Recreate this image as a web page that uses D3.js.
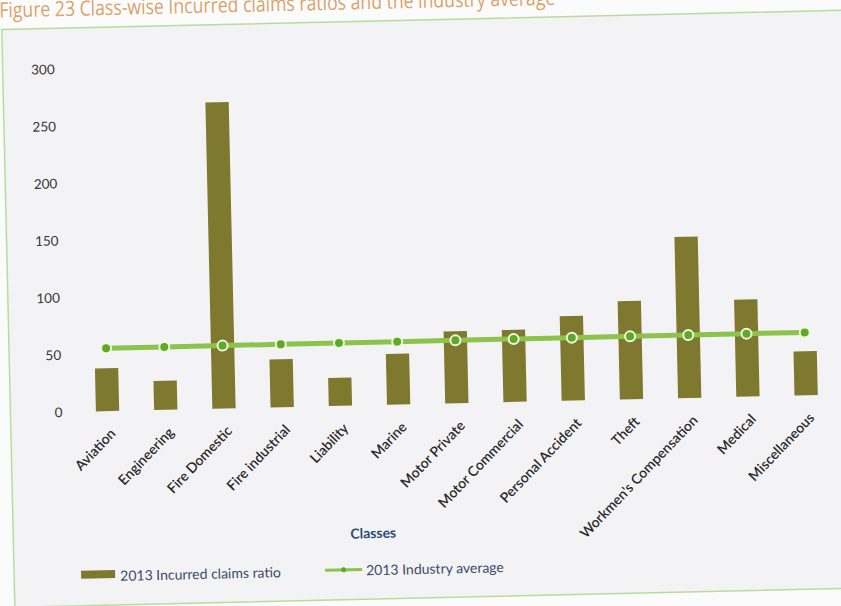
<!DOCTYPE html>
<html>
<head>
<meta charset="utf-8">
<script src="https://cdn.jsdelivr.net/npm/d3@7/dist/d3.min.js"></script>
<style>
  body { margin: 0; background: #fbfbfb; }
  svg { display: block; }
</style>
</head>
<body>
<svg width="841" height="606"></svg>
<script>
var classes = ["Aviation", "Engineering", "Fire Domestic", "Fire industrial", "Liability", "Marine",
  "Motor Private", "Motor Commercial", "Personal Accident", "Theft", "Workmen's Compensation",
  "Medical", "Miscellaneous"];
var claimsRatio = [37.5, 25.5, 268, 42, 24.5, 44.5, 63, 63, 74, 86, 141, 85, 38.5];
var industryAvg = [55, 55, 55, 55, 55, 55, 55, 55, 55, 55, 55, 55, 55];
var yTicks = [0, 50, 100, 150, 200, 250, 300];
var legendNames = ["2013 Incurred claims ratio", "2013 Industry average"];

var svg = d3.select("svg");
var font = "Lato, 'Open Sans', sans-serif";
var barColor = "#7f782f", lineColor = "#8cc34a";

// the scanned page is slightly tilted, so the whole chart sits in a rotated group
var g = svg.append("g").attr("transform", "rotate(-1.3, 420, 300)");

g.append("text")
    .attr("x", 6)
    .attr("y", 8)
    .attr("font-family", "'Open Sans', sans-serif")
    .attr("font-size", 21)
    .attr("textLength", 556)
    .attr("lengthAdjust", "spacingAndGlyphs")
    .attr("fill", "#d8a46c")
    .text("Figure 23 Class-wise Incurred claims ratios and the industry average");

g.append("rect")
    .attr("x", 8).attr("y", 20)
    .attr("width", 842).attr("height", 578)
    .attr("fill", "#f3f3f5")
    .attr("stroke", "#b9dc9c")
    .attr("stroke-width", 1.5);

var x = d3.scaleBand()
    .domain(classes)
    .range([76, 833])
    .paddingInner(0.6)
    .paddingOuter(0.3);
var y = d3.scaleLinear()
    .domain([0, 300])
    .range([404, 61]);

// y axis labels only
var yAxis = g.append("g")
    .attr("transform", "translate(66,0)")
    .call(d3.axisLeft(y).tickValues(yTicks).tickSize(0).tickPadding(6));
yAxis.select(".domain").remove();
yAxis.selectAll("text")
    .attr("font-family", font)
    .attr("font-size", 13.5)
    .attr("fill", "#333");

// bars
g.append("g").selectAll("rect")
    .data(claimsRatio)
    .enter().append("rect")
      .attr("x", function(d, i) { return x(classes[i]); })
      .attr("y", function(d) { return y(d); })
      .attr("width", x.bandwidth())
      .attr("height", function(d) { return y(0) - y(d); })
      .attr("fill", barColor);

// industry average line
var line = d3.line()
    .x(function(d, i) { return x(classes[i]) + x.bandwidth() / 2; })
    .y(function(d) { return y(d); });
g.append("path")
    .datum(industryAvg)
    .attr("d", line)
    .attr("fill", "none")
    .attr("stroke", lineColor)
    .attr("stroke-width", 5);
g.append("g").selectAll("circle")
    .data(industryAvg)
    .enter().append("circle")
      .attr("cx", function(d, i) { return x(classes[i]) + x.bandwidth() / 2; })
      .attr("cy", function(d) { return y(d); })
      .attr("r", 5)
      .attr("fill", "#5fa928")
      .attr("stroke", "#eef7df")
      .attr("stroke-width", 2);

// category labels
var xAxis = g.append("g")
    .attr("transform", "translate(0," + y(0) + ")")
    .call(d3.axisBottom(x).tickSize(0).tickPadding(0));
xAxis.select(".domain").remove();
xAxis.selectAll("text")
    .attr("font-family", font)
    .attr("font-size", 14)
    .attr("font-weight", 600)
    .attr("fill", "#2a2a2a")
    .attr("text-anchor", "end")
    .attr("dy", "0.35em")
    .attr("transform", "translate(5,20) rotate(-45)");

g.append("text")
    .attr("x", 368)
    .attr("y", 537)
    .attr("text-anchor", "middle")
    .attr("font-family", font)
    .attr("font-size", 14)
    .attr("font-weight", "bold")
    .attr("fill", "#2e4a78")
    .text("Classes");

// legend
var legend = g.append("g")
    .attr("font-family", font)
    .attr("font-size", 14)
    .attr("fill", "#3c4a66");
legend.append("rect")
    .attr("x", 75).attr("y", 563)
    .attr("width", 34).attr("height", 8)
    .attr("fill", barColor);
legend.append("text")
    .attr("x", 114).attr("y", 574)
    .text(legendNames[0]);
legend.append("line")
    .attr("x1", 319).attr("x2", 356)
    .attr("y1", 568).attr("y2", 568)
    .attr("stroke", lineColor)
    .attr("stroke-width", 3);
legend.append("circle")
    .attr("cx", 337.5).attr("cy", 568)
    .attr("r", 2.5)
    .attr("fill", "#5fa928");
legend.append("text")
    .attr("x", 360).attr("y", 574)
    .text(legendNames[1]);
</script>
</body>
</html>
